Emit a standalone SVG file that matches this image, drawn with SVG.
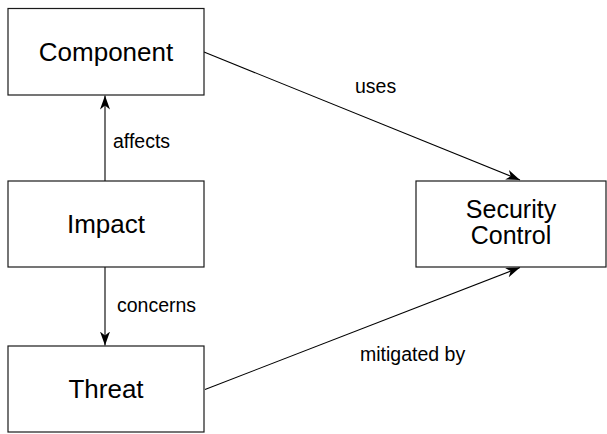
<svg xmlns="http://www.w3.org/2000/svg" width="607" height="434" viewBox="0 0 607 434">
  <style>
    .box { fill: #ffffff; stroke: #1a1a1a; stroke-width: 1.2; }
    .node-text { font-family: "Liberation Sans", Arial, sans-serif; font-size: 26px; fill: #000; text-anchor: middle; }
    .node-text-sm { font-family: "Liberation Sans", Arial, sans-serif; font-size: 25px; fill: #000; text-anchor: middle; }
    .edge { fill: none; stroke: #000; stroke-width: 1.1; }
    .edge-label { font-family: "Liberation Sans", Arial, sans-serif; font-size: 19.5px; fill: #000; }
  </style>
  <defs>
    <marker id="arrow" viewBox="0 0 14 10" refX="14" refY="5" markerWidth="14" markerHeight="10" markerUnits="userSpaceOnUse" orient="auto">
      <path d="M0,0 L14,5 L0,10 L4,5 Z" fill="#000"/>
    </marker>
  </defs>
  <rect width="607" height="434" fill="#ffffff"/>

  <g id="connectors">
    <g id="edge-affects">
      <line class="edge" x1="105" y1="181" x2="105" y2="95.5" marker-end="url(#arrow)"/>
      <text class="edge-label" x="113" y="148">affects</text>
    </g>
    <g id="edge-concerns">
      <line class="edge" x1="105" y1="267" x2="105" y2="345.5" marker-end="url(#arrow)"/>
      <text class="edge-label" x="117" y="311.5">concerns</text>
    </g>
    <g id="edge-uses">
      <line class="edge" x1="204" y1="52" x2="520" y2="180" marker-end="url(#arrow)"/>
      <text class="edge-label" x="355" y="93">uses</text>
    </g>
    <g id="edge-mitigated">
      <line class="edge" x1="205" y1="389.5" x2="520" y2="267.5" marker-end="url(#arrow)"/>
      <text class="edge-label" x="360" y="361">mitigated by</text>
    </g>
  </g>

  <g id="node-component">
    <rect class="box" x="8" y="8.5" width="196" height="86.5"/>
    <text class="node-text" x="106" y="61">Component</text>
  </g>
  <g id="node-impact">
    <rect class="box" x="8" y="181" width="196" height="86"/>
    <text class="node-text" x="106" y="233">Impact</text>
  </g>
  <g id="node-threat">
    <rect class="box" x="8" y="346" width="196" height="86"/>
    <text class="node-text" x="106" y="398">Threat</text>
  </g>
  <g id="node-security-control">
    <rect class="box" x="416" y="181" width="190" height="86"/>
    <text class="node-text-sm" x="511" y="218">Security</text>
    <text class="node-text-sm" x="511" y="244">Control</text>
  </g>
</svg>
